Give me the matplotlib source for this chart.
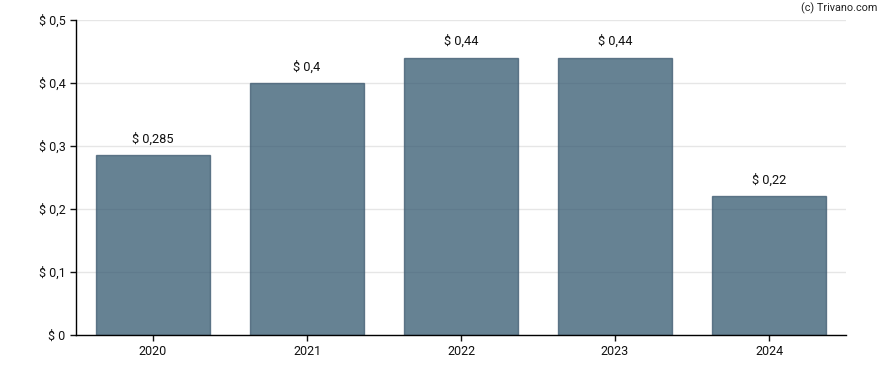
import matplotlib.pyplot as plt
from matplotlib.ticker import FuncFormatter

years = ['2020', '2021', '2022', '2023', '2024']
dividends = [0.285, 0.4, 0.44, 0.44, 0.22]
value_labels = ['$ 0,285', '$ 0,4', '$ 0,44', '$ 0,44', '$ 0,22']

plt.rcParams['font.family'] = ['Roboto', 'DejaVu Sans']

fig = plt.figure(figsize=(8.88, 3.70), dpi=100)
ax = fig.add_axes([76 / 888, 35 / 370, 770 / 888, 315 / 370])

x = range(len(years))
bars = ax.bar(x, dividends, width=0.745, color='#33586f', alpha=0.75,
              edgecolor='#3e5a70', linewidth=1, zorder=2)

for xi, v, lab in zip(x, dividends, value_labels):
    ax.annotate(lab, (xi, v), xytext=(0, 7), textcoords='offset points',
                ha='center', va='bottom', fontsize=9.2, color='#111111')

ax.set_xlim(-0.5, len(years) - 0.5)
ax.set_ylim(0, 0.5)
ax.set_yticks([0, 0.1, 0.2, 0.3, 0.4, 0.5])
ax.yaxis.set_major_formatter(FuncFormatter(
    lambda v, p: '$ 0' if v == 0 else '$ ' + ('%g' % round(v, 2)).replace('.', ',')))
ax.set_xticks(list(x))
ax.set_xticklabels(years)
ax.tick_params(labelsize=9, colors='#111111', length=4, width=1)
ax.grid(axis='y', color='#e6e6e6', linewidth=1, zorder=0)
ax.set_axisbelow(True)

for s in ['top', 'right']:
    ax.spines[s].set_visible(False)
for s in ['left', 'bottom']:
    ax.spines[s].set_color('black')
    ax.spines[s].set_linewidth(1)

fig.text(877 / 888, 1 - 8 / 370, '(c) Trivano.com', ha='right', va='center',
         fontsize=7.8, color='#222222')

fig.savefig('out.png', dpi=100)
